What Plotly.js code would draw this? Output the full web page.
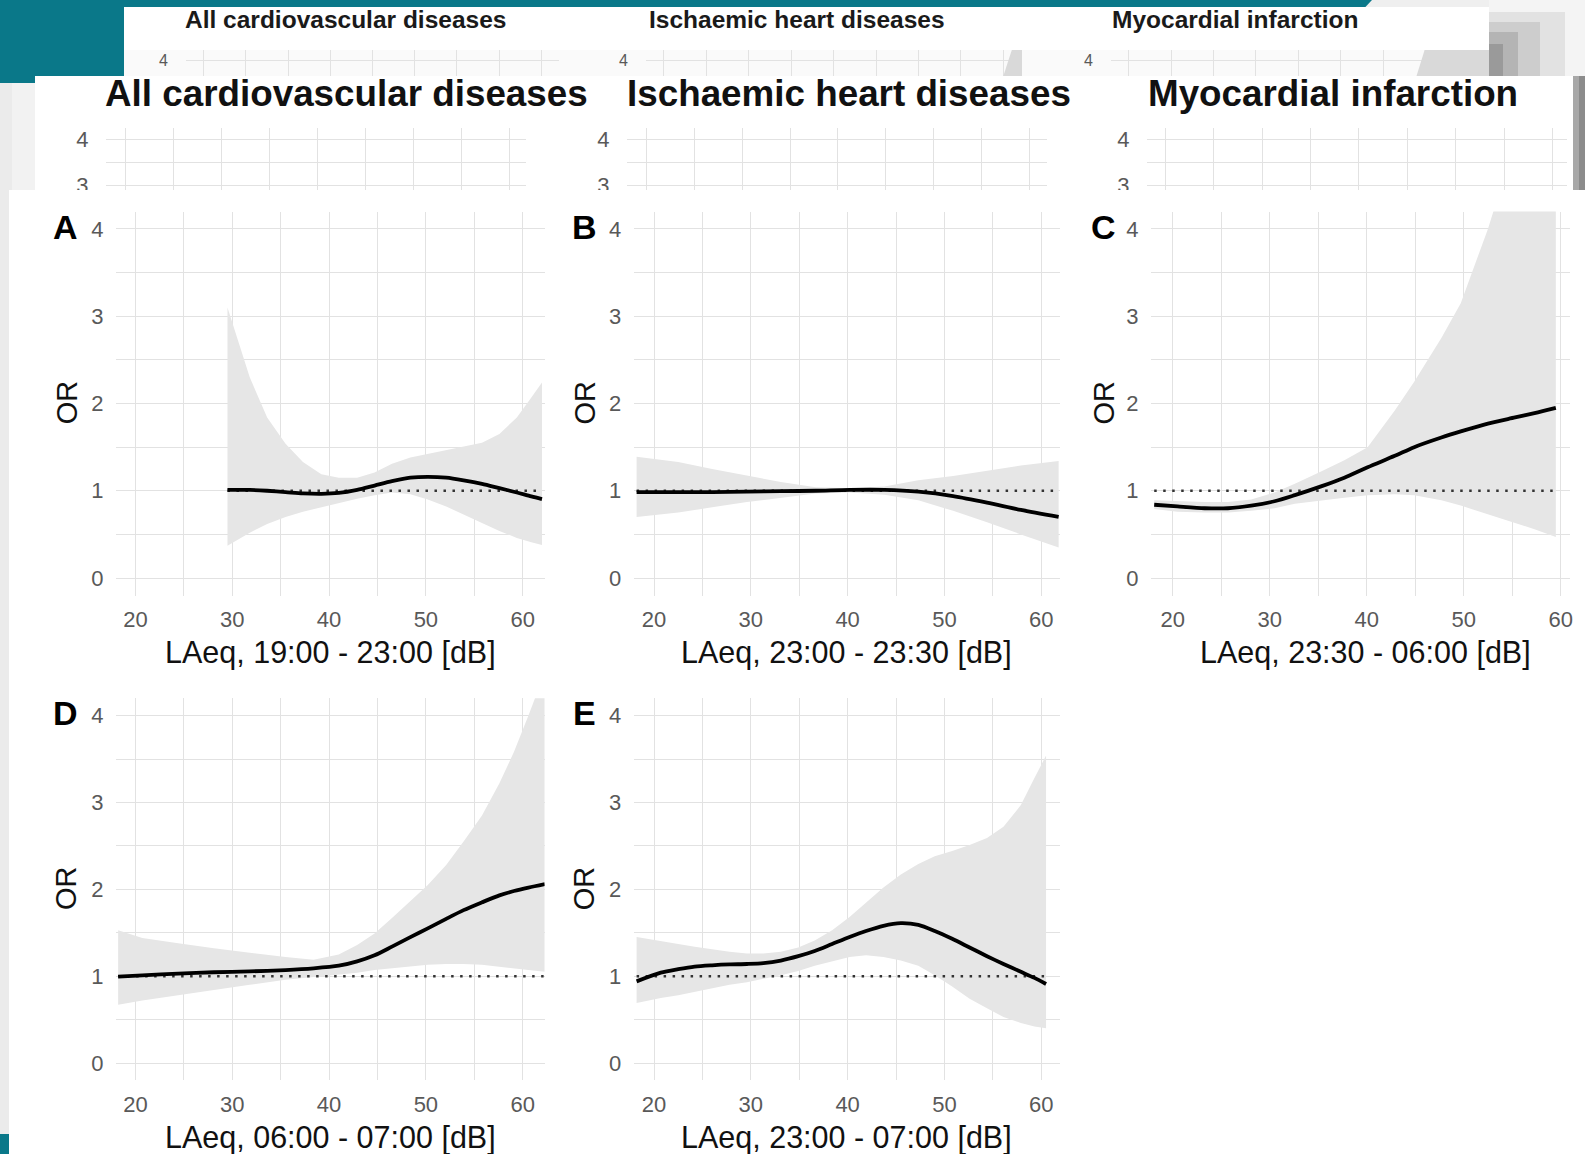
<!DOCTYPE html>
<html>
<head>
<meta charset="utf-8">
<script src="https://cdn.plot.ly/plotly-3.0.1.min.js"></script>
<style>
  html, body { margin: 0; padding: 0; background: #ffffff; }
  #chart { width: 1585px; height: 1154px; }
</style>
</head>
<body>
<div id="chart"></div>
<script>
// ---------------- DATA ----------------
const panelLetters = ["A", "B", "C", "D", "E"];
const xTitles = [
  "LAeq, 19:00 - 23:00 [dB]",
  "LAeq, 23:00 - 23:30 [dB]",
  "LAeq, 23:30 - 06:00 [dB]",
  "LAeq, 06:00 - 07:00 [dB]",
  "LAeq, 23:00 - 07:00 [dB]"
];
const yTitle = "OR";
const headerTitles = ["All cardiovascular diseases", "Ischaemic heart diseases", "Myocardial infarction"];
// gridline positions (major + minor) and their labels ('' = minor line, no label)
const xGridVals   = [15, 20, 25, 30, 35, 40, 45, 50, 55, 60, 65];
const xGridLabels = ["", "20", "", "30", "", "40", "", "50", "", "60", ""];
const yGridVals   = [0, 0.5, 1, 1.5, 2, 2.5, 3, 3.5, 4];
const yGridLabels = ["0", "", "1", "", "2", "", "3", "", "4"];

// Panel A: LAeq 19:00-23:00
const A_x  = [29.5, 30.3, 31.8, 33.6, 35.5, 37.3, 39.2, 41.0, 42.9, 44.7, 46.5, 48.4, 50.2, 52.1, 53.9, 55.8, 57.6, 59.4, 60.9, 62.0];
const A_or = [1.01, 1.01, 1.01, 1.00, 0.985, 0.97, 0.965, 0.975, 1.01, 1.06, 1.11, 1.15, 1.16, 1.15, 1.12, 1.08, 1.03, 0.98, 0.935, 0.905];
const A_hi = [3.10, 2.83, 2.30, 1.84, 1.54, 1.33, 1.19, 1.15, 1.15, 1.21, 1.31, 1.38, 1.42, 1.46, 1.50, 1.55, 1.65, 1.84, 2.07, 2.24];
const A_lo = [0.37, 0.42, 0.52, 0.62, 0.70, 0.76, 0.81, 0.86, 0.91, 0.95, 0.98, 0.96, 0.90, 0.82, 0.73, 0.63, 0.54, 0.46, 0.41, 0.38];

// Panel B: LAeq 23:00-23:30
const B_x  = [18.2, 22.5, 26.0, 29.6, 33.1, 36.7, 40.2, 43.8, 47.3, 50.9, 54.4, 57.9, 61.8];
const B_or = [0.985, 0.985, 0.985, 0.99, 0.995, 1.00, 1.01, 1.01, 0.99, 0.94, 0.865, 0.78, 0.70];
const B_hi = [1.39, 1.33, 1.25, 1.17, 1.10, 1.04, 1.03, 1.05, 1.12, 1.17, 1.23, 1.29, 1.34];
const B_lo = [0.70, 0.75, 0.81, 0.87, 0.92, 0.97, 0.98, 0.955, 0.89, 0.77, 0.64, 0.50, 0.35];

// Panel C: LAeq 23:30-06:00
const C_x  = [18.1, 20.5, 23.3, 25.7, 28.1, 30.5, 32.6, 35.3, 37.7, 40.1, 42.9, 44.9, 47.7, 49.7, 52.5, 55.3, 57.3, 59.5];
const C_or = [0.84, 0.82, 0.80, 0.80, 0.83, 0.88, 0.95, 1.05, 1.15, 1.27, 1.40, 1.50, 1.61, 1.68, 1.77, 1.84, 1.89, 1.95];
const C_hi = [0.89, 0.88, 0.87, 0.87, 0.90, 0.98, 1.08, 1.22, 1.35, 1.50, 1.92, 2.25, 2.75, 3.15, 4.00, 5.00, 5.80, 6.80];
const C_lo = [0.79, 0.76, 0.75, 0.75, 0.77, 0.80, 0.85, 0.89, 0.92, 0.95, 0.96, 0.95, 0.89, 0.83, 0.73, 0.63, 0.56, 0.47];

// Panel D: LAeq 06:00-07:00
const D_x  = [18.2, 20.7, 24.4, 28.1, 31.8, 35.5, 38.4, 41.0, 42.9, 44.7, 46.5, 48.4, 50.2, 52.1, 53.9, 55.8, 57.6, 59.1, 60.6, 62.3];
const D_or = [0.995, 1.01, 1.03, 1.045, 1.055, 1.07, 1.09, 1.12, 1.17, 1.24, 1.34, 1.45, 1.55, 1.66, 1.76, 1.85, 1.93, 1.98, 2.02, 2.06];
const D_hi = [1.53, 1.44, 1.38, 1.32, 1.27, 1.22, 1.19, 1.25, 1.36, 1.49, 1.67, 1.86, 2.05, 2.28, 2.55, 2.85, 3.22, 3.58, 4.00, 4.50];
const D_lo = [0.67, 0.72, 0.78, 0.84, 0.90, 0.96, 0.99, 1.02, 1.04, 1.07, 1.09, 1.11, 1.13, 1.14, 1.14, 1.13, 1.11, 1.09, 1.07, 1.05];

// Panel E: LAeq 23:00-07:00
const E_x  = [18.2, 20.7, 22.5, 24.2, 26.0, 27.8, 29.6, 31.3, 33.1, 34.9, 36.6, 38.4, 40.2, 41.9, 43.7, 45.5, 47.3, 49.0, 50.8, 52.6, 54.4, 56.1, 57.9, 59.3, 60.5];
const E_or = [0.94, 1.04, 1.08, 1.11, 1.125, 1.135, 1.14, 1.15, 1.18, 1.23, 1.29, 1.37, 1.45, 1.52, 1.58, 1.61, 1.59, 1.52, 1.43, 1.33, 1.23, 1.14, 1.05, 0.98, 0.91];
const E_hi = [1.45, 1.40, 1.37, 1.34, 1.31, 1.28, 1.26, 1.26, 1.28, 1.33, 1.41, 1.53, 1.68, 1.85, 2.02, 2.17, 2.29, 2.38, 2.44, 2.51, 2.59, 2.72, 2.97, 3.28, 3.54];
const E_lo = [0.69, 0.75, 0.78, 0.82, 0.86, 0.90, 0.93, 0.97, 1.01, 1.06, 1.12, 1.17, 1.22, 1.24, 1.22, 1.18, 1.12, 1.01, 0.88, 0.74, 0.63, 0.53, 0.46, 0.42, 0.40];

// Background screenshot layers: visible tops of confidence bands in the smallest header panels
const H2_x  = [60.0, 61.0, 62.2];
const H2_hi = [3.60, 4.25, 4.25];
const H3_x  = [53.95, 54.9, 62.5];
const H3_hi = [3.60, 4.25, 4.25];

// ---------------- LAYOUT HELPERS ----------------
const W = 1585, H = 1154;
const fx = p => p / W;
const fy = p => 1 - p / H;
const FONT = '"Liberation Sans", Arial, Helvetica, sans-serif';
const GRID = '#e2e2e2';
const TICKC = '#595959';

const panels = [
  {x: A_x, or: A_or, hi: A_hi, lo: A_lo, dx: [116, 544.6], dy: [211.5, 595.5], xr: [17.98, 62.27], lx: 65.7, ly: 227.4, ox: 66.7},
  {x: B_x, or: B_or, hi: B_hi, lo: B_lo, dx: [633.7, 1060], dy: [211.5, 595.5], xr: [17.9, 61.94], lx: 584, ly: 227.4, ox: 584},
  {x: C_x, or: C_or, hi: C_hi, lo: C_lo, dx: [1151, 1570], dy: [211.5, 595.5], xr: [17.77, 60.96], lx: 1103, ly: 227.4, ox: 1103},
  {x: D_x, or: D_or, hi: D_hi, lo: D_lo, dx: [116, 544.6], dy: [698.2, 1080.4], xr: [17.98, 62.27], lx: 65.7, ly: 712.6, ox: 66.7},
  {x: E_x, or: E_or, hi: E_hi, lo: E_lo, dx: [633.7, 1060], dy: [698.2, 1080.4], xr: [17.9, 61.94], lx: 584, ly: 712.6, ox: 584}
];

const layout = {
  width: W, height: H,
  margin: {l: 0, r: 0, t: 0, b: 0},
  paper_bgcolor: '#ffffff',
  plot_bgcolor: 'rgba(0,0,0,0)',
  showlegend: false,
  font: {family: FONT},
  shapes: [], annotations: []
};
const traces = [];

function rect(x0, y0, x1, y1, color, layer) {
  layout.shapes.push({type: 'rect', xref: 'paper', yref: 'paper',
    x0: fx(x0), x1: fx(x1), y0: fy(y1), y1: fy(y0),
    fillcolor: color, line: {width: 0}, layer: layer || 'below'});
}
function ann(text, px, py, size, color, extra) {
  layout.annotations.push(Object.assign({
    text: text, xref: 'paper', yref: 'paper', x: fx(px), y: fy(py),
    xanchor: 'center', yanchor: 'middle', showarrow: false,
    font: {family: FONT, size: size, color: color}
  }, extra || {}));
}
function xAxis(dom, range, anchor, showLabels, ticklen) {
  return {
    domain: [fx(dom[0]), fx(dom[1])], range: range, anchor: anchor,
    tickmode: 'array', tickvals: xGridVals, ticktext: xGridLabels,
    showgrid: true, gridcolor: GRID, gridwidth: 1,
    zeroline: false, showline: false, showticklabels: showLabels,
    ticks: showLabels ? 'outside' : '', ticklen: ticklen || 4, tickcolor: 'rgba(0,0,0,0)',
    tickfont: {family: FONT, size: 22, color: TICKC}, fixedrange: true
  };
}
function yAxis(dom, range, anchor, ticklen, fsize) {
  return {
    domain: [fy(dom[1]), fy(dom[0])], range: range, anchor: anchor,
    tickmode: 'array', tickvals: yGridVals, ticktext: yGridLabels,
    showgrid: true, gridcolor: GRID, gridwidth: 1,
    zeroline: false, showline: false,
    ticks: 'outside', ticklen: ticklen, tickcolor: 'rgba(0,0,0,0)',
    tickfont: {family: FONT, size: fsize, color: TICKC}, fixedrange: true
  };
}

// ---------------- BACKGROUND (screenshot collage layers) ----------------
const TEAL = '#0a7889';
rect(0, 0, 1585, 190, '#efefef');               // page behind header cards
layout.shapes.push({type: 'path', xref: 'paper', yref: 'paper', layer: 'below',
  path: `M ${fx(0)},${fy(0)} L ${fx(1372)},${fy(0)} L ${fx(1365)},${fy(7.5)} L ${fx(0)},${fy(7.5)} Z`,
  fillcolor: TEAL, line: {width: 0}});
rect(0, 0, 125, 83, TEAL);
// soft shadow right of the first card
rect(1489, 0, 1585, 76, '#f4f4f4');
rect(1489, 12, 1565, 76, '#e2e2e2');
rect(1489, 22, 1540, 76, '#cdcdcd');
rect(1489, 32, 1518, 76, '#b4b4b4');
rect(1489, 44, 1503, 76, '#9a9a9a');
// first (small) header card
rect(124, 7, 1489, 76, '#ffffff');
rect(124, 50, 1489, 76, '#fafafa');
// left grey margin
rect(0, 83, 35, 190, '#ebebeb');
rect(12, 83, 35, 190, '#f2f2f2');
// second (large) header card
rect(35, 76, 1573, 190, '#ffffff');
rect(1573, 76, 1585, 190, '#a8a8a8');
rect(1579, 76, 1585, 190, '#8c8c8c');
// main figure card and its left margin
rect(0, 190, 9, 1154, '#ebebeb');
rect(0, 1134, 9, 1154, TEAL);
// clip the half-hidden tick labels of the header card
rect(9, 190, 1585, 200, '#ffffff', 'above');

// ---------------- MAIN PANELS A-E ----------------
panels.forEach((p, i) => {
  const n = i + 1;
  const xa = 'x' + (n === 1 ? '' : n), ya = 'y' + (n === 1 ? '' : n);
  layout['xaxis' + (n === 1 ? '' : n)] = xAxis(p.dx, p.xr, ya, true, 4);
  layout['yaxis' + (n === 1 ? '' : n)] = yAxis(p.dy, [-0.2, 4.2], xa, 7, 22);

  // confidence band
  traces.push({
    type: 'scatter', mode: 'lines', xaxis: xa, yaxis: ya,
    x: p.x.concat(p.x.slice().reverse()),
    y: p.hi.concat(p.lo.slice().reverse()),
    fill: 'toself', fillcolor: '#e6e6e6',
    line: {width: 0, color: 'rgba(0,0,0,0)'},
    hoverinfo: 'skip'
  });
  // reference OR = 1 (dotted)
  traces.push({
    type: 'scatter', mode: 'lines', xaxis: xa, yaxis: ya,
    x: [p.x[0], p.x[p.x.length - 1]], y: [1, 1],
    line: {color: '#333333', width: 2.5, dash: '2.5px,6.5px'},
    hoverinfo: 'skip'
  });
  // OR curve
  traces.push({
    type: 'scatter', mode: 'lines', xaxis: xa, yaxis: ya,
    x: p.x, y: p.or,
    line: {color: '#000000', width: 3.8, shape: 'spline', smoothing: 0.8}
  });

  const cx = (p.dx[0] + p.dx[1]) / 2 + (i === 2 ? 5 : 0);
  ann(xTitles[i], cx, p.dy[1] + 57, 30.5, '#111111');
  ann(yTitle, p.ox, (p.dy[0] + p.dy[1]) / 2 - 1, 29, '#111111', {textangle: -90});
  ann('<b>' + panelLetters[i] + '</b>', p.lx, p.ly, 34, '#000000');
});

// ---------------- HEADER CARD 2 (large titles) ----------------
const L2 = [
  {dx: [106, 526], xr: [18.02, 61.77], tx: 346},
  {dx: [627, 1047], xr: [18.0, 61.8], tx: 848.6},
  {dx: [1147, 1567], xr: [18.1, 61.5], tx: 1332.8}
];
L2.forEach((p, k) => {
  const n = 6 + k;
  layout['xaxis' + n] = xAxis(p.dx, p.xr, 'y' + n, false);
  layout['yaxis' + n] = yAxis([128, 190], [2.89, 4.253], 'x' + n, 12, 22);
  // empty trace so that the partly hidden panel is drawn
  traces.push({type: 'scatter', mode: 'lines', xaxis: 'x' + n, yaxis: 'y' + n, x: [], y: [], hoverinfo: 'skip'});
  ann('<b>' + headerTitles[k] + '</b>', p.tx, 94, 36.8, '#111111');
});

// ---------------- HEADER CARD 1 (small titles) ----------------
const L1 = [
  {dx: [186, 559], xr: [17.9, 62.1], tx: 345.7, band: null},
  {dx: [646, 1022], xr: [17.9, 62.2], tx: 796.5, band: {x: H2_x, hi: H2_hi}},
  {dx: [1111, 1489], xr: [17.9, 62.5], tx: 1235, band: {x: H3_x, hi: H3_hi}}
];
L1.forEach((p, k) => {
  const n = 9 + k;
  layout['xaxis' + n] = xAxis(p.dx, p.xr, 'y' + n, false);
  layout['yaxis' + n] = yAxis([50, 76], [3.6, 4.25], 'x' + n, 14, 16);
  if (p.band) {
    const lowEdge = p.band.x.map(() => 3.0);
    traces.push({
      type: 'scatter', mode: 'lines', xaxis: 'x' + n, yaxis: 'y' + n,
      x: p.band.x.concat(p.band.x.slice().reverse()),
      y: p.band.hi.concat(lowEdge),
      fill: 'toself', fillcolor: '#d9d9d9', line: {width: 0, color: 'rgba(0,0,0,0)'},
      hoverinfo: 'skip'
    });
  } else {
    traces.push({type: 'scatter', mode: 'lines', xaxis: 'x' + n, yaxis: 'y' + n, x: [], y: [], hoverinfo: 'skip'});
  }
  ann('<b>' + headerTitles[k] + '</b>', p.tx, 20, 24.5, '#1a1a1a');
});

Plotly.newPlot('chart', traces, layout, {displayModeBar: false, staticPlot: true});
</script>
</body>
</html>
